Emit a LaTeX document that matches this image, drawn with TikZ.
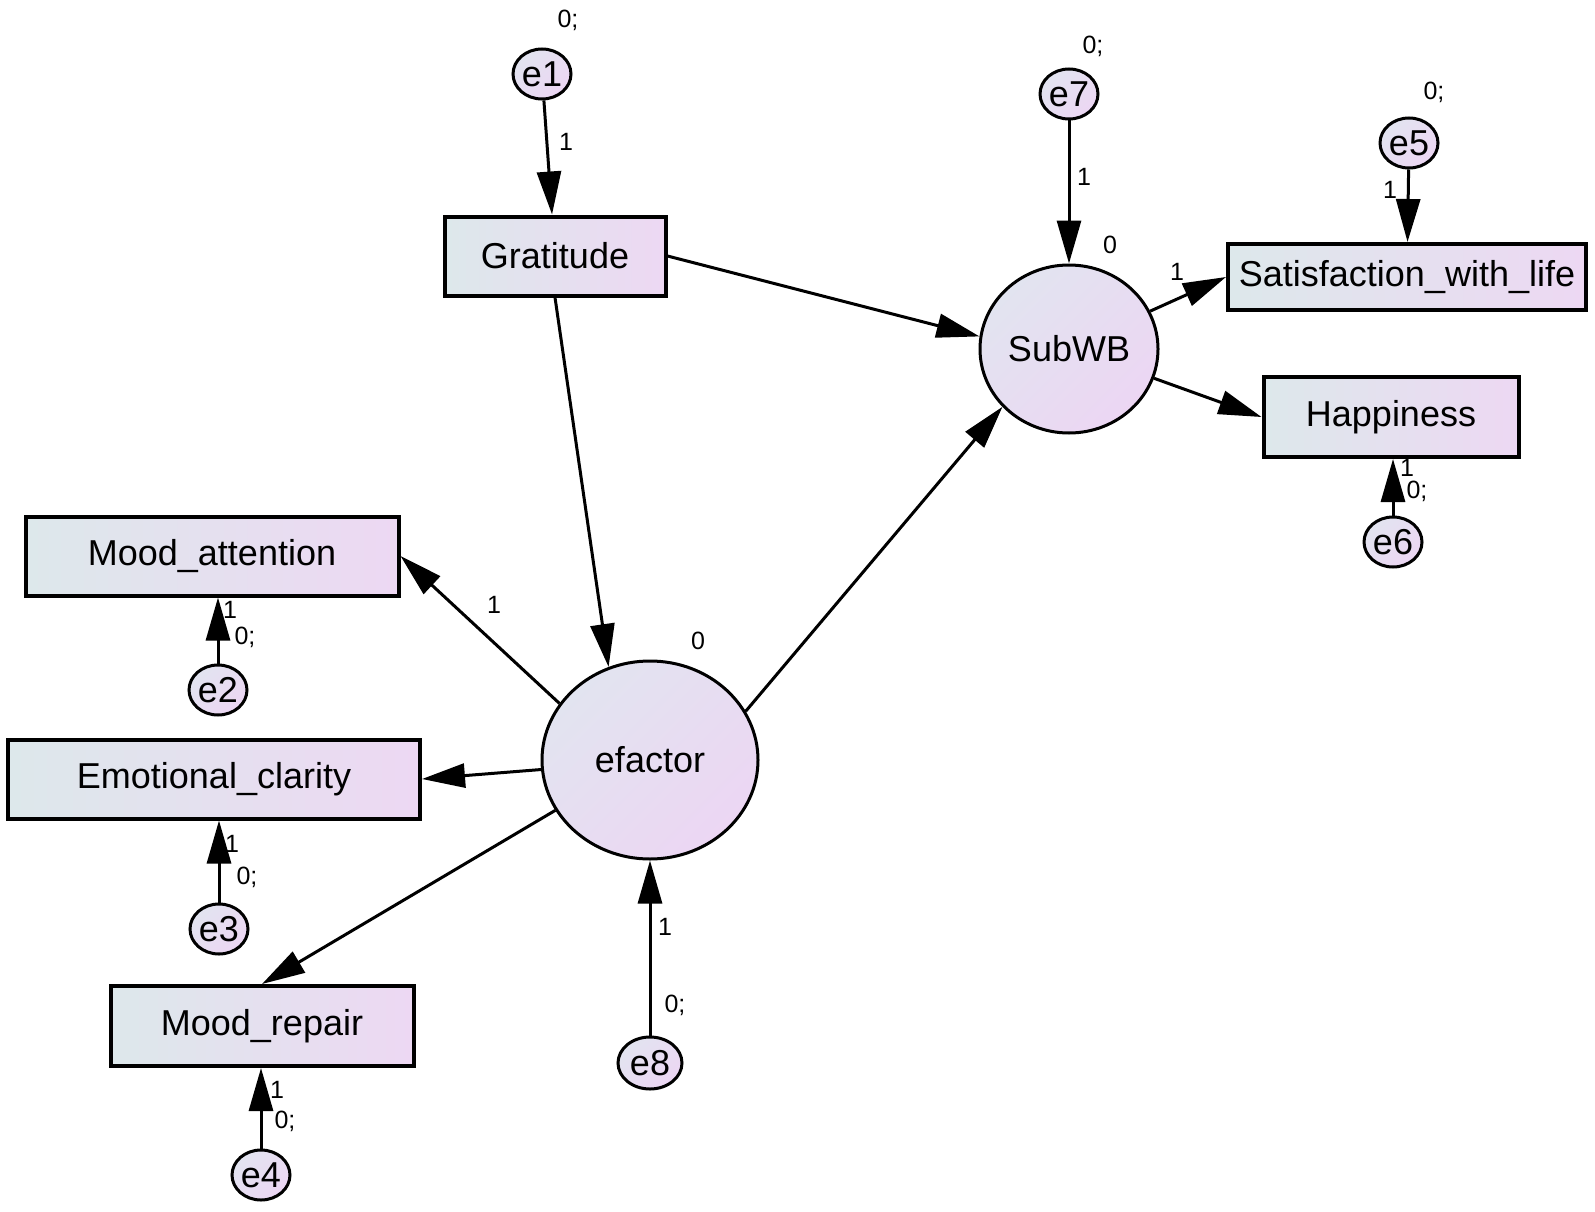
\documentclass[tikz,border=0pt]{standalone}
\usepackage{fontspec}
\setmainfont{Liberation Sans}
\usepackage{xcolor}
\usepackage{tikz}
\usetikzlibrary{arrows.meta,positioning,shapes}

\definecolor{boxleft}{RGB}{221,232,235}
\definecolor{boxright}{RGB}{237,216,243}
\definecolor{varleft}{RGB}{226,228,240}
\definecolor{varright}{RGB}{236,214,243}

\begin{document}
\begin{tikzpicture}[x=1pt, y=-1pt, line width=3pt, >={Triangle[length=43pt,width=24pt]}]
                \tikzstyle{block} = [draw, rectangle, line width=4pt, inner sep=0pt, left color=boxleft, right color=boxright, font=\fontsize{36}{40}\selectfont]
                \tikzstyle{latent} = [draw, ellipse, inner sep=0pt, left color=varleft, right color=varright, shading angle=45, font=\fontsize{36}{40}\selectfont]
                \tikzstyle{err} = [draw, ellipse, inner sep=0pt, minimum width=58pt, minimum height=50pt, left color=varleft, right color=varright, shading angle=45, font=\fontsize{36}{40}\selectfont]
                \tikzstyle{lbl} = [inner sep=0pt, font=\fontsize{25}{28}\selectfont]

                \useasboundingbox (0,0) rectangle (1595,1212);

                \node [block, minimum width=221pt, minimum height=79pt] (gratitude) at (555,256) {Gratitude};
                \node [latent, minimum width=178pt, minimum height=168pt] (subwb) at (1069,349) {SubWB};
                \node [block, minimum width=358pt, minimum height=66pt] (sat-life) at (1407,277) {Satisfaction\_with\_life};
                \node [block, minimum width=255pt, minimum height=80pt] (happiness) at (1391,417) {Happiness};
                \node [latent, minimum width=216pt, minimum height=198pt] (efactor) at (650,760) {efactor};
                \node [block, minimum width=373pt, minimum height=79pt] (mood-attention) at (212,556) {Mood\_attention};
                \node [block, minimum width=412pt, minimum height=79pt] (emotional-clarity) at (214,779) {Emotional\_clarity};
                \node [block, minimum width=303pt, minimum height=80pt] (mood-repair) at (262,1026) {Mood\_repair};

                \node [err] (e1) at (542,74) {e1};
                \node [err] (e7) at (1069,94) {e7};
                \node [err] (e5) at (1409,143) {e5};
                \node [err] (e6) at (1393,542) {e6};
                \node [err] (e2) at (218,690) {e2};
                \node [err] (e3) at (219,929) {e3};
                \node [err] (e4) at (261,1175) {e4};
                \node [err, minimum width=64pt, minimum height=52pt] (e8) at (650,1063) {e8};

                \node [lbl] (var-e1) at (568,20) {0;};
                \node [lbl] (var-e7) at (1093,46) {0;};
                \node [lbl] (var-e5) at (1434,92) {0;};
                \node [lbl] (var-e6) at (1417,491) {0;};
                \node [lbl] (var-e2) at (245,637) {0;};
                \node [lbl] (var-e3) at (247,877) {0;};
                \node [lbl] (var-e4) at (285,1121) {0;};
                \node [lbl] (var-e8) at (675,1005) {0;};
                \node [lbl] (mean-subwb) at (1110,245) {0};
                \node [lbl] (mean-efactor) at (698,641) {0};

                \node [lbl] (w-e1) at (566,142) {1};
                \node [lbl] (w-e7) at (1084,177) {1};
                \node [lbl] (w-e5) at (1390,190) {1};
                \node [lbl] (w-e6) at (1407,468) {1};
                \node [lbl] (w-e2) at (230,610) {1};
                \node [lbl] (w-e3) at (232,844) {1};
                \node [lbl] (w-e4) at (277,1090) {1};
                \node [lbl] (w-e8) at (665,927) {1};
                \node [lbl] (w-sat) at (1177,272) {1};
                \node [lbl] (w-mood) at (494,605) {1};

                \draw [->] (e1) -- (gratitude);
                \draw [->] (e7) -- (subwb);
                \draw [->] (e5) -- (sat-life);
                \draw [->] (e6) -- (e6 |- happiness.south);
                \draw [->] (e2) -- (e2 |- mood-attention.south);
                \draw [->] (e3) -- (e3 |- emotional-clarity.south);
                \draw [->] (e4) -- (e4 |- mood-repair.south);
                \draw [->] (e8) -- (efactor.south);
                \draw [->] (gratitude.east) -- (subwb.172);
                \draw [->] (gratitude.south) -- (efactor.114);
                \draw [->] (efactor.27) -- (subwb.221);
                \draw [->] (subwb.25) -- (sat-life.west);
                \draw [->] (subwb.-19) -- (happiness.west);
                \draw [->] (efactor.148) -- (mood-attention.east);
                \draw [->] (efactor.185) -- (emotional-clarity.east);
                \draw [->] (efactor.208) -- (mood-repair.north);
\end{tikzpicture}
\end{document}
